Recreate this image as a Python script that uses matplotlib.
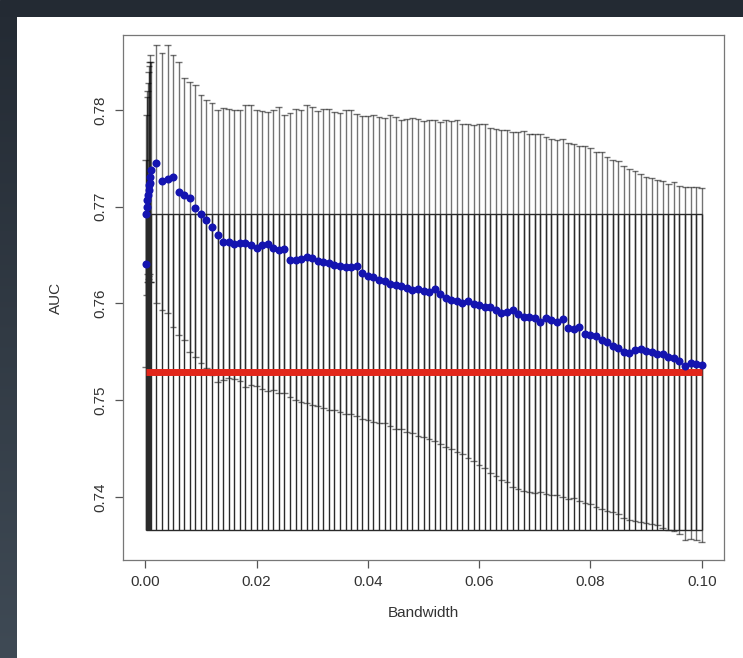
import numpy as np
import matplotlib
matplotlib.use("Agg")
import matplotlib.pyplot as plt
from matplotlib.colors import LinearSegmentedColormap

plt.rcParams['font.family'] = ['Liberation Sans', 'DejaVu Sans']

# bandwidths: a dense run near zero, then 0.001 .. 0.100
bw_small = [0.0001, 0.0002, 0.0003, 0.0004, 0.0005, 0.0006, 0.0007, 0.0008, 0.0009]
auc_small = [0.7641, 0.7692, 0.7700, 0.7707, 0.7712, 0.7717, 0.7722, 0.7725, 0.7731]
hi_small = [0.7748, 0.7795, 0.7813, 0.7820, 0.7828, 0.7839, 0.7845, 0.7850, 0.7857]
lo_small = [0.7534, 0.7609, 0.7622, 0.7631, 0.7622, 0.7625, 0.7628, 0.7631, 0.7622]

bw_main = [round(0.001 * i, 3) for i in range(1, 101)]
auc_main = [
    0.7738, 0.7745, 0.7727, 0.7729, 0.7731, 0.7715, 0.7712, 0.7709, 0.7699, 0.7692,
    0.7686, 0.7679, 0.7671, 0.7664, 0.7664, 0.7661, 0.7663, 0.7663, 0.7660, 0.7657,
    0.7660, 0.7661, 0.7657, 0.7655, 0.7656, 0.7645, 0.7645, 0.7646, 0.7648, 0.7647,
    0.7644, 0.7643, 0.7642, 0.7640, 0.7639, 0.7638, 0.7638, 0.7639, 0.7632, 0.7628,
    0.7627, 0.7624, 0.7623, 0.7620, 0.7619, 0.7618, 0.7616, 0.7614, 0.7615, 0.7613,
    0.7612, 0.7615, 0.7610, 0.7606, 0.7604, 0.7603, 0.7600, 0.7603, 0.7599, 0.7598,
    0.7596, 0.7596, 0.7593, 0.7590, 0.7591, 0.7593, 0.7589, 0.7586, 0.7586, 0.7585,
    0.7581, 0.7585, 0.7583, 0.7581, 0.7584, 0.7575, 0.7574, 0.7576, 0.7568, 0.7567,
    0.7566, 0.7562, 0.7560, 0.7556, 0.7554, 0.7550, 0.7549, 0.7552, 0.7553, 0.7551,
    0.7550, 0.7548, 0.7548, 0.7545, 0.7544, 0.7541, 0.7535, 0.7538, 0.7537, 0.7536]
hi_main = [
    0.7850, 0.7867, 0.7859, 0.7867, 0.7857, 0.7850, 0.7833, 0.7829, 0.7826, 0.7816,
    0.7810, 0.7807, 0.7800, 0.7802, 0.7801, 0.7800, 0.7800, 0.7805, 0.7805, 0.7800,
    0.7799, 0.7798, 0.7800, 0.7803, 0.7795, 0.7797, 0.7801, 0.7800, 0.7805, 0.7803,
    0.7799, 0.7801, 0.7801, 0.7798, 0.7797, 0.7800, 0.7800, 0.7796, 0.7794, 0.7794,
    0.7795, 0.7793, 0.7792, 0.7795, 0.7793, 0.7790, 0.7791, 0.7792, 0.7791, 0.7789,
    0.7790, 0.7790, 0.7788, 0.7790, 0.7789, 0.7790, 0.7786, 0.7785, 0.7784, 0.7786,
    0.7785, 0.7781, 0.7780, 0.7779, 0.7779, 0.7777, 0.7777, 0.7778, 0.7775, 0.7775,
    0.7775, 0.7772, 0.7770, 0.7769, 0.7770, 0.7766, 0.7765, 0.7763, 0.7763, 0.7761,
    0.7757, 0.7757, 0.7751, 0.7748, 0.7747, 0.7742, 0.7739, 0.7737, 0.7734, 0.7731,
    0.7730, 0.7728, 0.7727, 0.7724, 0.7726, 0.7721, 0.7720, 0.7720, 0.7720, 0.7719]
lo_main = [
    0.7622, 0.7600, 0.7593, 0.7590, 0.7576, 0.7567, 0.7562, 0.7550, 0.7545, 0.7538,
    0.7533, 0.7526, 0.7519, 0.7521, 0.7523, 0.7522, 0.7520, 0.7514, 0.7516, 0.7515,
    0.7512, 0.7510, 0.7511, 0.7508, 0.7508, 0.7503, 0.7500, 0.7498, 0.7497, 0.7495,
    0.7494, 0.7492, 0.7490, 0.7490, 0.7488, 0.7486, 0.7486, 0.7484, 0.7481, 0.7480,
    0.7478, 0.7476, 0.7476, 0.7473, 0.7470, 0.7470, 0.7467, 0.7466, 0.7463, 0.7462,
    0.7460, 0.7458, 0.7455, 0.7452, 0.7450, 0.7447, 0.7444, 0.7440, 0.7437, 0.7433,
    0.7430, 0.7425, 0.7422, 0.7418, 0.7415, 0.7410, 0.7408, 0.7406, 0.7405, 0.7404,
    0.7405, 0.7403, 0.7402, 0.7402, 0.7400, 0.7398, 0.7399, 0.7396, 0.7394, 0.7393,
    0.7390, 0.7388, 0.7386, 0.7384, 0.7382, 0.7378, 0.7376, 0.7375, 0.7374, 0.7373,
    0.7372, 0.7371, 0.7368, 0.7366, 0.7365, 0.7362, 0.7356, 0.7357, 0.7356, 0.7354]

# baseline model: mean and its interval
base_auc = 0.7529
base_lo = 0.7366
base_hi = 0.7692

bw = np.array(bw_small + bw_main)
auc = np.array(auc_small + auc_main)
hi = np.array(hi_small + hi_main)
lo = np.array(lo_small + lo_main)

W, H = 743, 658
fig = plt.figure(figsize=(W / 100, H / 100), dpi=100)
fig.patch.set_facecolor('white')

# slide frame: dark strip on top, gradient strip on the left
top = fig.add_axes([0, 1 - 17 / H, 1, 17 / H])
top.set_axis_off()
top.add_patch(plt.Rectangle((0, 0), 1, 1, color='#232a33', transform=top.transAxes))
left = fig.add_axes([0, 0, 17 / W, 1 - 17 / H])
grad = np.linspace(0, 1, 256).reshape(-1, 1)
cm = LinearSegmentedColormap.from_list('slide', ['#242b34', '#3f4a55'])
left.imshow(grad, aspect='auto', cmap=cm, extent=[0, 1, 0, 1], origin='upper')
left.set_axis_off()

ax = fig.add_axes([123 / W, (H - 560) / H, (724 - 123) / W, (560 - 35) / H])
ax.set_xlim(-0.004, 0.104)
ax.set_ylim(0.73349, 0.78775)

cap = 0.0006
# baseline interval repeated at every bandwidth
ax.vlines(bw, base_lo, base_hi, color='#2a2a2a', lw=1.0, zorder=2)
# model intervals (semi transparent, so overlaps near zero go dark)
ec = (0, 0, 0, 0.55)
ax.vlines(bw, lo, hi, color=ec, lw=1.0, zorder=1)
ax.hlines(hi, bw - cap, bw + cap, color=ec, lw=1.0, zorder=1)
ax.hlines(lo, bw - cap, bw + cap, color=ec, lw=1.0, zorder=1)
ax.hlines([base_lo, base_hi], bw.min(), bw.max(), color='#2a2a2a', lw=1.0, zorder=2)

ax.plot([bw.min(), bw.max()], [base_auc, base_auc], color='#e2261a', lw=5,
        solid_capstyle='butt', zorder=3)
ax.plot(bw, auc, 'o', color='#1414b0', ms=5.8, mew=0, zorder=4)

for s in ax.spines.values():
    s.set_color('#777777')
    s.set_linewidth(0.9)
ax.set_xticks([0.0, 0.02, 0.04, 0.06, 0.08, 0.10])
ax.set_xticklabels(['0.00', '0.02', '0.04', '0.06', '0.08', '0.10'])
ax.set_yticks([0.74, 0.75, 0.76, 0.77, 0.78])
ax.set_yticklabels(['0.74', '0.75', '0.76', '0.77', '0.78'], rotation=90, va='center')
ax.tick_params(direction='out', length=6, width=0.9, color='#555555',
               labelsize=11, labelcolor='#333333', pad=5)
ax.set_xlabel('Bandwidth', fontsize=11, color='#333333', labelpad=12)
ax.set_ylabel('AUC', fontsize=11, color='#333333', labelpad=22)

fig.savefig('out.png', dpi=100, facecolor='white')
